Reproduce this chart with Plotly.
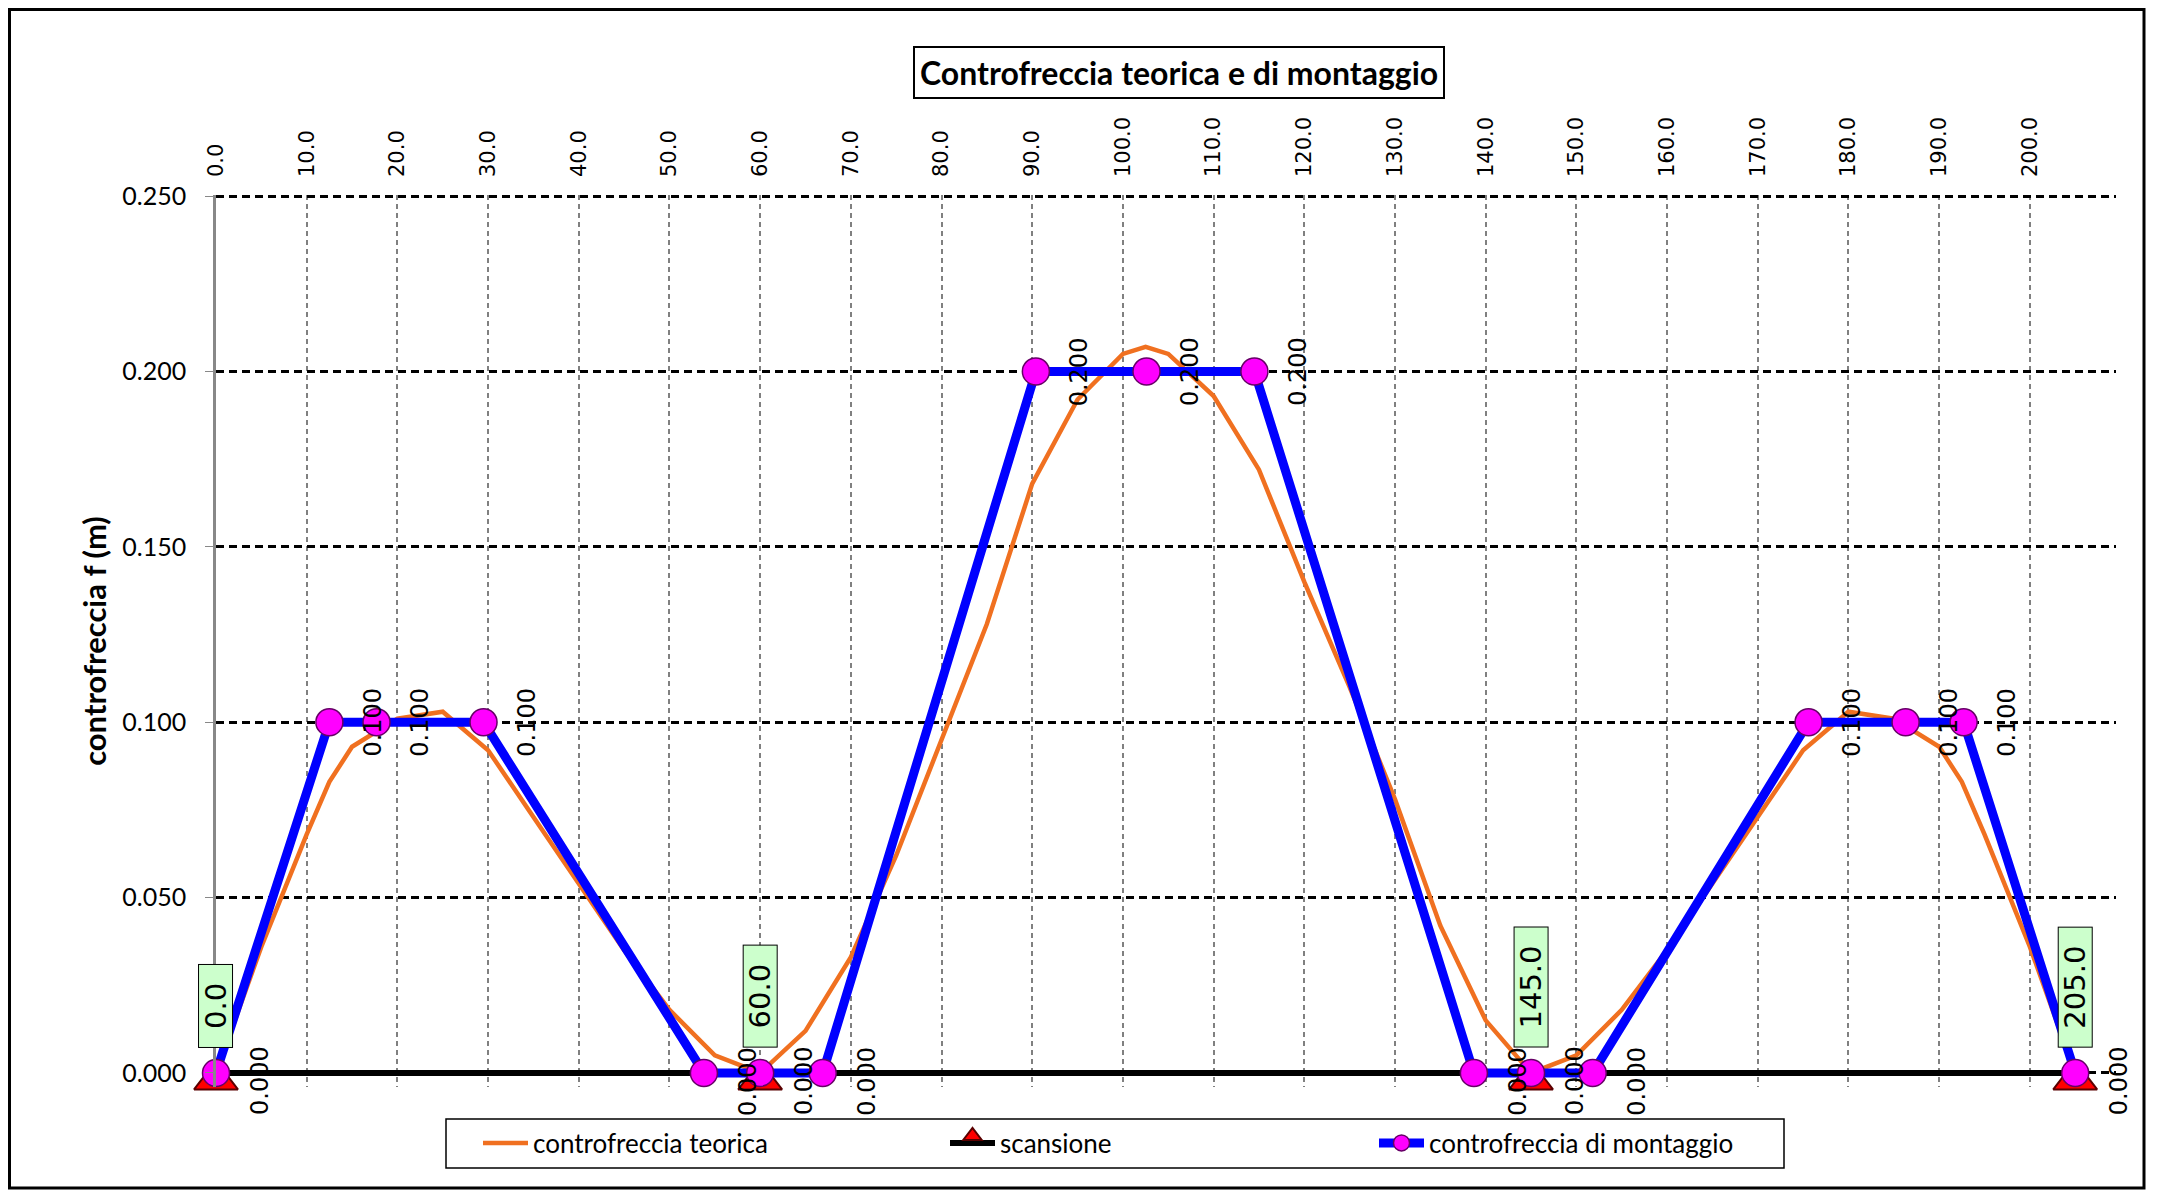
import plotly.graph_objects as go

# ---- data ----
x_teorica = [0, 5, 10, 12.5, 15, 20, 25, 30, 35, 40, 45, 50, 55, 60,
             65, 70, 75, 80, 85, 90, 95, 100, 102.5, 105, 110, 115, 120, 125, 130, 135, 140, 145,
             150, 155, 160, 165, 170, 175, 180, 185, 190, 192.5, 195, 200, 205]
y_teorica = [0.000, 0.036, 0.068, 0.083, 0.093, 0.101, 0.103, 0.092, 0.073, 0.054, 0.035, 0.018, 0.005, 0.000,
             0.012, 0.033, 0.062, 0.095, 0.128, 0.168, 0.192, 0.205, 0.207, 0.205, 0.193, 0.172, 0.140, 0.110,
             0.078, 0.042, 0.015, 0.000,
             0.005, 0.018, 0.035, 0.054, 0.073, 0.092, 0.103, 0.101, 0.093, 0.083, 0.068, 0.036, 0.000]

x_scansione = [0.0, 60.0, 145.0, 205.0]
y_scansione = [0.0, 0.0, 0.0, 0.0]
scansione_labels = ["0.0", "60.0", "145.0", "205.0"]

x_montaggio = [0, 12.5, 17.7, 29.5, 53.8, 60, 66.9, 90.4, 102.6, 114.5, 138.7, 145, 151.8, 175.6, 186.3, 192.7, 205]
y_montaggio = [0.0, 0.1, 0.1, 0.1, 0.0, 0.0, 0.0, 0.2, 0.2, 0.2, 0.0, 0.0, 0.0, 0.1, 0.1, 0.1, 0.0]

x_ticks = list(range(0, 201, 10))
x_ticklabels = [f"{v:.1f}" for v in x_ticks]
y_ticks = [0.0, 0.05, 0.10, 0.15, 0.20, 0.25]
y_ticklabels = [f"{v:.3f}" for v in y_ticks]

title_text = "Controfreccia teorica e di montaggio"
y_title = "controfreccia f (m)"

# ---- figure geometry ----
W, H = 2172, 1194
L, R, T, B = 208, 64, 187, 115
PW, PH = W - L - R, H - T - B


def px_x(fx):
    return (fx - L) / PW


def px_y(fy):
    return (H - B - fy) / PH


def text_len(s, fs):
    return sum(0.318 if c == "." else 0.636 for c in s) * fs


fig = go.Figure()
fig.add_trace(go.Scatter(x=x_teorica, y=y_teorica, mode="lines", name="controfreccia teorica",
                         line=dict(color="#F07020", width=4.5), legend="legend"))
fig.add_trace(go.Scatter(x=x_scansione, y=y_scansione, mode="lines+markers", name="scansione",
                         line=dict(color="black", width=6),
                         marker=dict(symbol="triangle-up", size=38, color="#FF0000", angle=0, standoff=7,
                                     line=dict(color="#5A0000", width=2)),
                         cliponaxis=False, legend="legend2"))
fig.add_trace(go.Scatter(x=x_montaggio, y=y_montaggio, mode="lines+markers", name="controfreccia di montaggio",
                         line=dict(color="#0000FF", width=9),
                         marker=dict(symbol="circle", size=27, color="#FF00FF",
                                     line=dict(color="#660066", width=1.5)),
                         cliponaxis=False, legend="legend3"))

annotations = []
for xv, yv in zip(x_montaggio, y_montaggio):
    annotations.append(dict(x=xv, y=yv, xref="x", yref="y", text=f"{yv:.3f}", showarrow=False,
                            textangle=-90, xshift=44, yshift=(-8 if yv == 0 else 0),
                            font=dict(family="DejaVu Sans", size=24, color="black")))
LAB_FS = 29
for xv, yv, lab in zip(x_scansione, y_scansione, scansione_labels):
    annotations.append(dict(x=xv, y=yv, xref="x", yref="y", text=lab, showarrow=False,
                            textangle=-90, yanchor="bottom", yshift=25,
                            width=round(text_len(lab, LAB_FS)) + 30, height=27,
                            bgcolor="#CCFFCC", bordercolor="black", borderwidth=1, borderpad=3,
                            font=dict(family="DejaVu Sans", size=LAB_FS, color="black")))
annotations.append(dict(x=px_x(1171), y=px_y(65), xref="paper", yref="paper", text="<b>" + title_text + "</b>",
                        xanchor="center", yanchor="middle",
                        showarrow=False, bordercolor="black", borderwidth=2, borderpad=5, bgcolor="white",
                        font=dict(family="Lato", size=32, color="black")))

shapes = [
    dict(type="rect", xref="paper", yref="paper", x0=px_x(1.5), x1=px_x(2136), y0=px_y(1180), y1=px_y(1.5),
         line=dict(color="black", width=3), layer="below"),
    dict(type="rect", xref="paper", yref="paper", x0=px_x(438), x1=px_x(1776), y0=px_y(1160), y1=px_y(1111),
         line=dict(color="black", width=1.5), layer="below"),
]

leg_common = dict(orientation="h", yanchor="middle", y=px_y(1135), xanchor="left",
                  bgcolor="rgba(0,0,0,0)", borderwidth=0, itemwidth=45,
                  font=dict(family="Lato", size=26, color="black"))

fig.update_layout(
    width=W, height=H,
    margin=dict(l=L, r=R, t=T, b=B),
    paper_bgcolor="white", plot_bgcolor="white",
    font=dict(family="Lato", size=20, color="black"),
    showlegend=True,
    legend=dict(x=px_x(470), **leg_common),
    legend2=dict(x=px_x(937), **leg_common),
    legend3=dict(x=px_x(1366), **leg_common),
    annotations=annotations,
    shapes=shapes,
)

fig.update_xaxes(range=[0, 209.5], side="top", tickmode="array", tickvals=x_ticks, ticktext=x_ticklabels,
                 tickangle=-90, tickfont=dict(family="DejaVu Sans", size=21, color="black"),
                 ticklabelstandoff=17,
                 showgrid=True, gridcolor="#808080", griddash="5px,4px", gridwidth=2,
                 zeroline=False, showline=False, ticks="")
fig.update_yaxes(range=[-0.004, 0.2503], tickmode="array", tickvals=y_ticks, ticktext=y_ticklabels,
                 tickfont=dict(family="Lato", size=25, color="black"), ticklabelstandoff=14,
                 showgrid=True, gridcolor="black", griddash="8px,5px", gridwidth=2.5,
                 zeroline=False, showline=True, linecolor="#888888", linewidth=2.5,
                 ticks="outside", ticklen=8, tickcolor="#888888",
                 title=dict(text="<b>" + y_title + "</b>", font=dict(family="Lato", size=31, color="black"),
                            standoff=7))

fig.write_html("out.html")
